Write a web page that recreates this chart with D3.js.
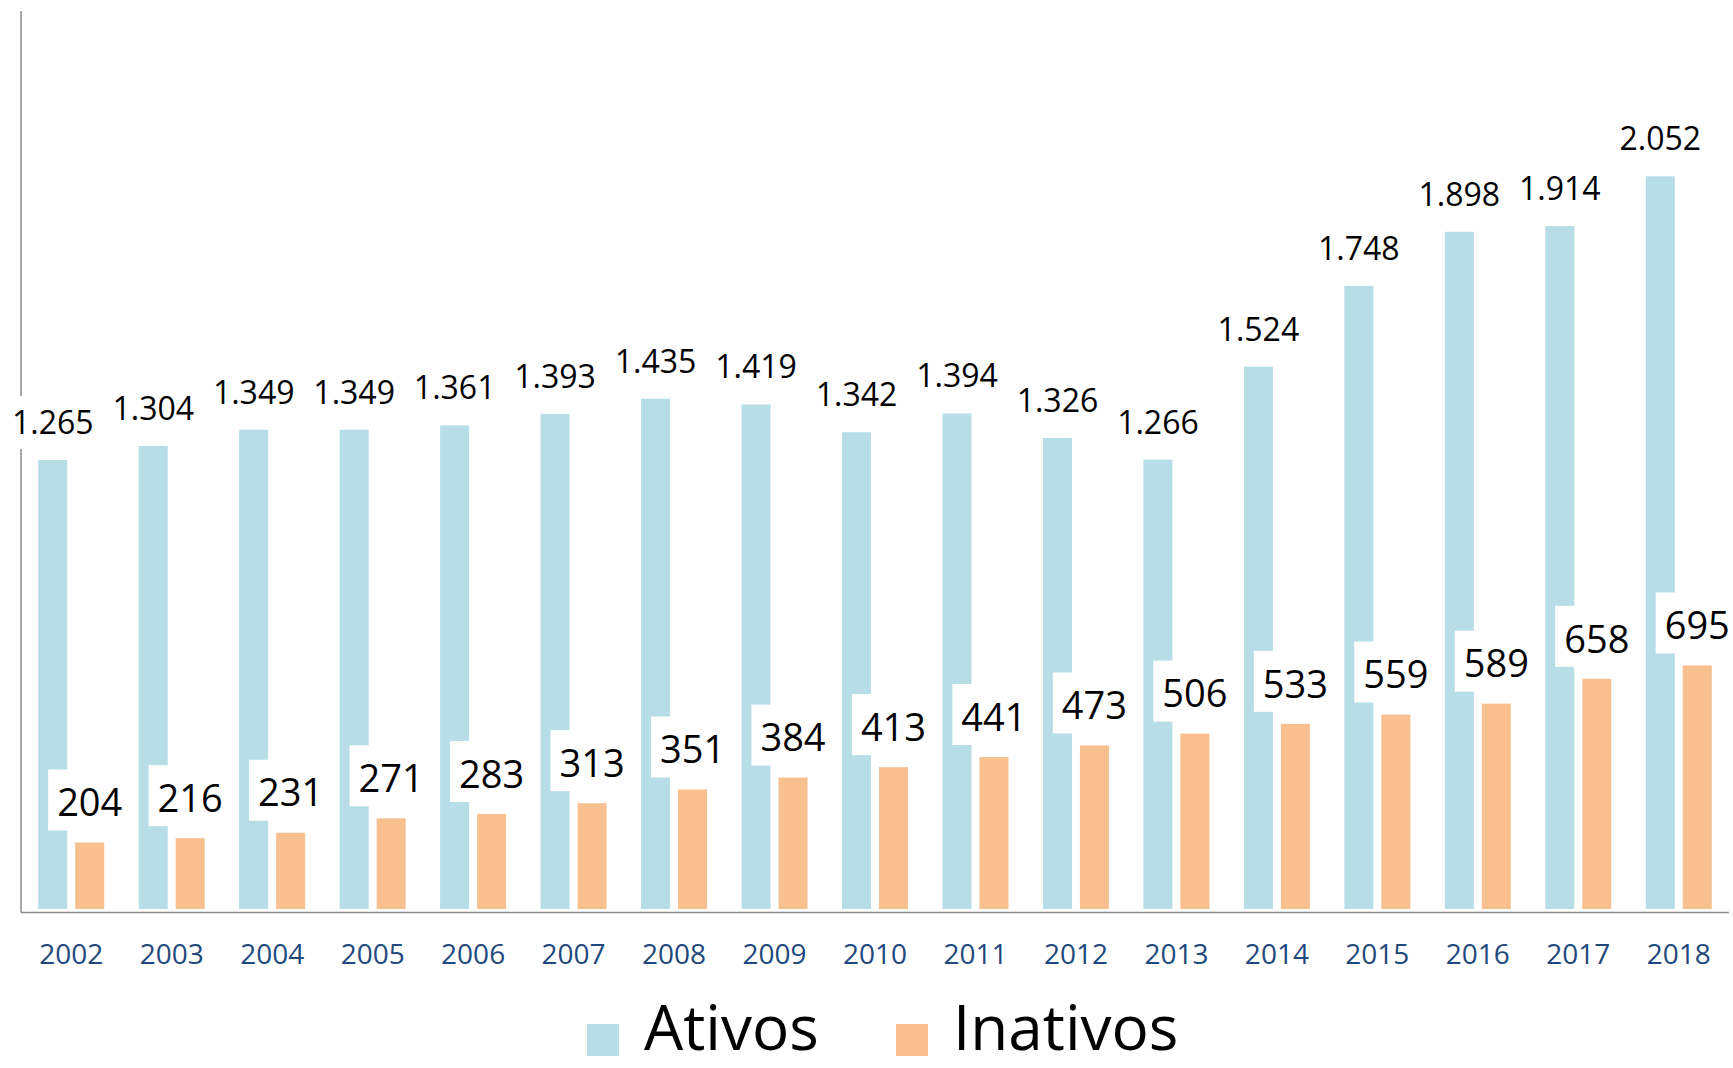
<!DOCTYPE html>
<html>
<head>
<meta charset="utf-8">
<script src="https://cdn.jsdelivr.net/npm/d3@7"></script>
<style>
  html, body { margin: 0; padding: 0; background: #fff; }
  svg { display: block; }
  text { font-family: "Open Sans", "Noto Sans", sans-serif; }
</style>
</head>
<body>
<svg id="chart" width="1733" height="1068"></svg>
<script>
// ---- Data ----
const years = ["2002","2003","2004","2005","2006","2007","2008","2009","2010","2011","2012","2013","2014","2015","2016","2017","2018"];
const ativos = [1265,1304,1349,1349,1361,1393,1435,1419,1342,1394,1326,1266,1524,1748,1898,1914,2052];
const inativos = [204,216,231,271,283,313,351,384,413,441,473,506,533,559,589,658,695];
const seriesNames = ["Ativos","Inativos"];
const seriesColors = ["#b7dde7","#f9c08f"];

// ---- Layout ----
const W = 1733, H = 1068;
const plotLeft = 21, plotRight = 1729, plotTop = 11, axisY = 912.5, barBottom = 909;

const svg = d3.select("#chart");
const fmt = v => d3.format(",")(v).replace(/,/g, ".");

const x0 = d3.scaleBand().domain(years).range([plotLeft, plotRight]).padding(0);
const bw = x0.bandwidth();
const x1 = d3.scaleBand().domain(seriesNames).range([bw/2 - 33, bw/2 + 33]).paddingInner(0.216);
const y = d3.scaleLinear().domain([0, 2052]).range([916, 176.3]);

const rows = years.map((yr, i) => ({year: yr, Ativos: ativos[i], Inativos: inativos[i]}));

// Y axis line
svg.append("line").attr("x1", plotLeft).attr("x2", plotLeft).attr("y1", plotTop).attr("y2", axisY)
  .attr("stroke", "#8c8c8c").attr("stroke-width", 1.5);

const g = svg.selectAll("g.grp").data(rows).enter().append("g")
  .attr("class", "grp").attr("transform", d => `translate(${x0(d.year)},0)`);

// Bars
seriesNames.forEach((s, si) => {
  g.append("rect")
    .attr("x", x1(s))
    .attr("width", x1.bandwidth())
    .attr("y", d => y(d[s]))
    .attr("height", d => barBottom - y(d[s]))
    .attr("fill", seriesColors[si]);
});

// Ativos labels (with white backgrounds)
g.append("g").each(function(d) {
  const gg = d3.select(this);
  const cx = x1("Ativos") + x1.bandwidth()/2;
  const base = y(d.Ativos) - 26;
  const t = gg.append("text").attr("x", cx).attr("y", base).attr("text-anchor", "middle")
    .attr("font-size", 32).attr("fill", "#000").text(fmt(d.Ativos));
  const bb = t.node().getBBox();
  gg.insert("rect", "text").attr("x", bb.x - 9).attr("width", bb.width + 18)
    .attr("y", base - 38).attr("height", 53).attr("fill", "#fff");
});

// Inativos labels (with white backgrounds)
g.append("g").each(function(d) {
  const gg = d3.select(this);
  const cx = x1("Inativos") + x1.bandwidth()/2;
  const base = y(d.Inativos) - 26.3;
  const t = gg.append("text").attr("x", cx).attr("y", base).attr("text-anchor", "middle")
    .attr("font-size", 38).attr("fill", "#000").text(fmt(d.Inativos));
  const bb = t.node().getBBox();
  gg.insert("rect", "text").attr("x", bb.x - 9).attr("width", bb.width + 18)
    .attr("y", base - 46.7).attr("height", 61).attr("fill", "#fff");
});

// X axis
const xAxis = d3.axisBottom(x0).tickSize(0).tickPadding(0);
const xg = svg.append("g").attr("transform", `translate(0,${axisY})`).call(xAxis);
xg.select(".domain").remove();
xg.selectAll("text").attr("y", 51.5).attr("dy", 0).attr("font-size", 28).attr("fill", "#1f497d")
  .attr("font-family", "'Open Sans', sans-serif");
svg.append("line").attr("x1", plotLeft).attr("x2", plotRight).attr("y1", axisY).attr("y2", axisY)
  .attr("stroke", "#8c8c8c").attr("stroke-width", 1.5);

// Legend
const legendX = [587, 896];
const leg = svg.selectAll("g.leg").data(seriesNames).enter().append("g").attr("class", "leg")
  .attr("transform", (d, i) => `translate(${legendX[i]},1024)`);
leg.append("rect").attr("width", 32).attr("height", 32).attr("fill", (d, i) => seriesColors[i]);
leg.append("text").attr("x", 57).attr("y", 26).attr("font-size", 62)
  .attr("font-family", "Lato, 'Open Sans', sans-serif").attr("fill", "#000").text(d => d);
</script>
</body>
</html>
